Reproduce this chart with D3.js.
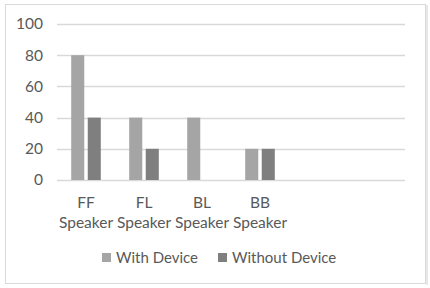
<!DOCTYPE html>
<html><head><meta charset="utf-8">
<script src="https://cdn.jsdelivr.net/npm/d3@7"></script>
<style>body{margin:0;background:#fff}svg{display:block}</style>
</head><body>
<script>
const categories = ["FF\nSpeaker","FL\nSpeaker","BL\nSpeaker","BB\nSpeaker","",""];
const catKeys = ["c1","c2","c3","c4","c5","c6"];
const withDevice = [80,40,40,20,null,null];
const withoutDevice = [40,20,0,20,null,null];
const seriesNames = ["With Device","Without Device"];
const seriesColors = ["#a5a5a5","#7f7f7f"];
const yTicks = [0,20,40,60,80,100];

const W=430,H=288;
const svg=d3.select("body").append("svg").attr("width",W).attr("height",H);
const font="Lato, 'Open Sans', sans-serif";
svg.append("rect").attr("x",5.5).attr("y",4.5).attr("width",420).attr("height",279)
  .attr("fill","#fff").attr("stroke","#d9d9d9");
svg.append("line").attr("x1",427).attr("x2",427).attr("y1",5).attr("y2",285).attr("stroke","#e8e8e8").attr("stroke-width",2);

const x=d3.scaleBand().domain(catKeys).range([57,405]);
const y=d3.scaleLinear().domain([0,100]).range([180,24]);
const x1=d3.scaleBand().domain([0,1]).range([0,x.bandwidth()]).paddingInner(0.21).paddingOuter(0.86);

const g=svg.append("g");
g.selectAll("line.grid").data(yTicks).join("line")
  .attr("x1",57).attr("x2",405).attr("y1",d=>Math.round(y(d))+0.5).attr("y2",d=>Math.round(y(d))+0.5)
  .attr("stroke","#d9d9d9").attr("stroke-width",1.3);

const yAxis=d3.axisLeft(y).tickValues(yTicks).tickSize(0).tickPadding(14);
const ya=svg.append("g").attr("transform","translate(57,0)").call(yAxis);
ya.select(".domain").remove();
ya.selectAll("text").attr("font-family",font).attr("font-size",15.5).attr("fill","#595959");

const series=[withDevice,withoutDevice];
series.forEach((vals,si)=>{
  g.selectAll("rect.s"+si).data(vals.map((v,i)=>({v,k:catKeys[i]})).filter(d=>d.v!=null&&d.v>0)).join("rect")
    .attr("x",d=>x(d.k)+x1(si)).attr("width",x1.bandwidth())
    .attr("y",d=>y(d.v)).attr("height",d=>y(0)-y(d.v))
    .attr("fill",seriesColors[si]);
});

const xAxis=d3.axisBottom(x).tickSize(0).tickFormat(()=> "");
const xa=svg.append("g").attr("transform","translate(0,180)").call(xAxis);
xa.select(".domain").remove();
xa.selectAll(".tick").each(function(d,i){
  const lines=categories[i].split("\n");
  const t=d3.select(this).append("text").attr("fill","#595959").attr("font-family",font)
    .attr("font-size",15.5).attr("text-anchor","middle");
  lines.forEach((l,j)=>t.append("tspan").attr("x",0).attr("y",28+j*20).text(l));
});

const legX=[102,218];
seriesNames.forEach((n,i)=>{
  svg.append("rect").attr("x",legX[i]).attr("y",253).attr("width",9).attr("height",9).attr("fill",seriesColors[i]);
  svg.append("text").attr("x",legX[i]+14).attr("y",263).attr("font-family",font).attr("font-size",15)
    .attr("fill","#595959").text(n);
});
</script>
</body></html>
